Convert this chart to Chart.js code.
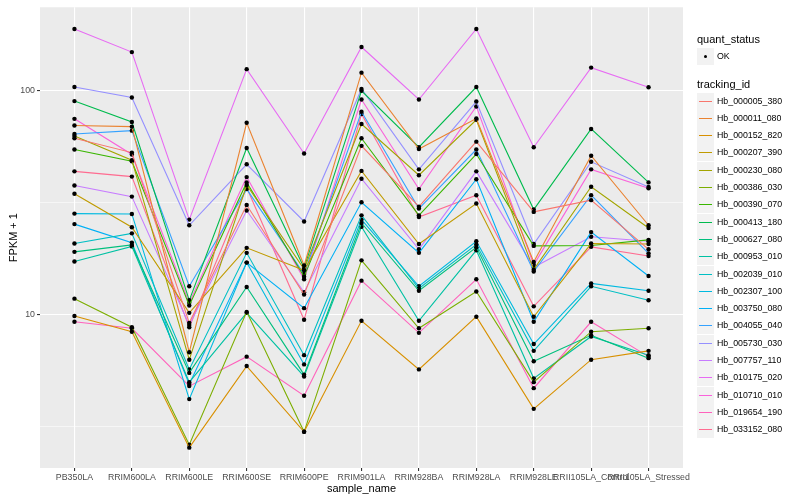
<!DOCTYPE html>
<html>
<head>
<meta charset="utf-8">
<script src="https://cdn.jsdelivr.net/npm/chart.js@4.4.1/dist/chart.umd.min.js"></script>
<style>
  html, body { margin: 0; padding: 0; background: #fff; }
  #wrap { position: relative; width: 800px; height: 500px; font-family: "Liberation Sans", Arial, sans-serif; }
  #chart { position: absolute; left: 0; top: 0; }
  #legend { position: absolute; left: 697px; top: 0; width: 103px; }
  .lg-title { position: absolute; left: 0; font-size: 11px; color: #000; white-space: nowrap; }
  .lg-item { position: absolute; left: 0; height: 17px; width: 103px; }
  .lg-key { position: absolute; left: 0; top: 0; width: 17px; height: 17px; background: #f2f2f2; }
  .lg-line { position: absolute; left: 2px; top: 8px; width: 13px; height: 1px; }
  .lg-dot { position: absolute; left: 7px; top: 7px; width: 3px; height: 3px; border-radius: 50%; background: #000; }
  .lg-text { position: absolute; left: 20px; top: 0; line-height: 17px; font-size: 8.8px; color: #000; white-space: nowrap; }
</style>
</head>
<body>
<div id="wrap">
  <canvas id="chart" width="800" height="500"></canvas>
  <div id="legend"></div>
</div>
<script>
// categories on the x axis
const sampleNames = ['PB350LA', 'RRIM600LA', 'RRIM600LE', 'RRIM600SE', 'RRIM600PE', 'RRIM901LA',
  'RRIM928BA', 'RRIM928LA', 'RRIM928LE', 'RRII105LA_Control', 'RRII105LA_Stressed'];

// FPKM + 1 per gene, one value per sample
const hb_000005_380 = [61.4, 53.0, 9.2, 30.9, 12.3, 56.8, 30.4, 59.3, 28.8, 32.5, 19.6];
const hb_000011_080 = [70.0, 69.2, 6.8, 72.0, 16.6, 120.6, 55.0, 75.3, 17.2, 51.3, 25.1];
const hb_000152_820 = [9.87, 8.4, 2.55, 5.9, 3.0, 9.4, 5.7, 9.8, 3.8, 6.3, 6.9];
const hb_000207_390 = [34.7, 24.6, 10.2, 19.9, 15.8, 43.9, 20.7, 31.4, 9.8, 20.8, 20.7];
const hb_000230_080 = [62.9, 49.0, 6.3, 38.0, 16.0, 71.1, 42.0, 74.3, 15.9, 37.3, 24.4];
const hb_000386_030 = [11.8, 8.8, 2.63, 10.3, 3.0, 17.5, 8.7, 12.7, 5.0, 8.4, 8.7];
const hb_000390_070 = [54.7, 48.5, 11.0, 39.0, 14.8, 61.4, 27.8, 52.2, 20.3, 20.4, 21.6];
const hb_000413_180 = [90.0, 72.6, 11.6, 55.6, 16.2, 100.0, 56.0, 104.0, 29.5, 67.6, 39.0];
const hb_000627_080 = [19.1, 20.5, 5.5, 13.3, 5.4, 25.7, 12.8, 20.0, 6.2, 8.1, 6.4];
const hb_000953_010 = [17.3, 20.2, 5.0, 10.2, 5.3, 24.7, 9.4, 19.4, 5.2, 8.0, 6.6];
const hb_002039_010 = [20.8, 23.1, 5.7, 18.9, 6.6, 27.8, 13.1, 20.6, 6.9, 13.4, 11.6];
const hb_002307_100 = [28.3, 28.2, 4.2, 17.1, 6.0, 26.6, 13.4, 21.3, 7.4, 13.8, 12.8];
const hb_003750_080 = [25.4, 21.0, 4.9, 17.1, 10.7, 31.8, 18.9, 40.3, 9.3, 23.4, 14.9];
const hb_004055_040 = [64.2, 66.4, 13.4, 36.4, 15.2, 80.7, 29.8, 54.7, 15.6, 34.2, 18.8];
const hb_005730_030 = [104.0, 93.4, 25.1, 47.0, 26.1, 102.0, 44.6, 89.6, 20.7, 48.2, 37.2];
const hb_007757_110 = [37.8, 33.7, 9.0, 29.2, 12.6, 40.5, 19.6, 43.7, 16.3, 22.3, 21.3];
const hb_010175_020 = [189.0, 149.0, 26.6, 125.0, 52.5, 157.0, 91.5, 189.0, 56.0, 127.0, 103.8];
const hb_010710_010 = [75.0, 52.0, 11.3, 41.2, 14.4, 91.5, 36.4, 85.2, 16.7, 44.6, 36.7];
const hb_019654_190 = [9.3, 8.7, 4.8, 6.5, 4.35, 14.2, 8.3, 14.4, 4.7, 9.3, 6.5];
const hb_033152_080 = [43.7, 41.4, 8.8, 37.0, 9.5, 78.8, 27.3, 34.2, 10.9, 20.1, 18.3];

const trackingIds = ['Hb_000005_380', 'Hb_000011_080', 'Hb_000152_820', 'Hb_000207_390', 'Hb_000230_080',
  'Hb_000386_030', 'Hb_000390_070', 'Hb_000413_180', 'Hb_000627_080', 'Hb_000953_010',
  'Hb_002039_010', 'Hb_002307_100', 'Hb_003750_080', 'Hb_004055_040', 'Hb_005730_030',
  'Hb_007757_110', 'Hb_010175_020', 'Hb_010710_010', 'Hb_019654_190', 'Hb_033152_080'];
const seriesValues = [hb_000005_380, hb_000011_080, hb_000152_820, hb_000207_390, hb_000230_080,
  hb_000386_030, hb_000390_070, hb_000413_180, hb_000627_080, hb_000953_010,
  hb_002039_010, hb_002307_100, hb_003750_080, hb_004055_040, hb_005730_030,
  hb_007757_110, hb_010175_020, hb_010710_010, hb_019654_190, hb_033152_080];

// y breaks: labelled majors and the log-midpoint minors
const yMajorTicks = [10, 100];
const yMinorTicks = [3.1623, 31.623];

const colors = ['#F8766D', '#EA8331', '#D89000', '#C09B00', '#A3A500', '#7CAE00', '#39B600', '#00BB4E',
  '#00BF7D', '#00C1A3', '#00BFC4', '#00BAE0', '#00B0F6', '#35A2FF', '#9590FF', '#C77CFF',
  '#E76BF3', '#FA62DB', '#FF62BC', '#FF6C91'];

const font = '"Liberation Sans", Arial, sans-serif';

// grey panel behind the plot
const panelBg = {
  id: 'panelBg',
  beforeDraw(chart) {
    const a = chart.chartArea, ctx = chart.ctx;
    ctx.save();
    ctx.fillStyle = '#EBEBEB';
    ctx.fillRect(a.left, a.top, a.right - a.left, a.bottom - a.top);
    ctx.restore();
  }
};

const isMajor = v => yMajorTicks.some(m => Math.abs(m - v) < 1e-6);

const datasets = seriesValues.map((vals, i) => ({
  label: trackingIds[i],
  data: vals.map((y, x) => ({ x, y })),
  borderColor: colors[i],
  borderWidth: 1.1,
  pointRadius: 2.2,
  pointBackgroundColor: '#000',
  pointBorderWidth: 0,
  pointStyle: 'circle',
  fill: false,
  tension: 0
}));

new Chart(document.getElementById('chart'), {
  type: 'line',
  data: { datasets },
  plugins: [panelBg],
  options: {
    responsive: false,
    animation: false,
    devicePixelRatio: 1,
    layout: { padding: { left: 0, right: 117, top: 5, bottom: 0 } },
    plugins: { legend: { display: false }, tooltip: { enabled: false } },
    scales: {
      x: {
        type: 'linear',
        min: -0.6, max: 10.6,
        afterBuildTicks: s => { s.ticks = sampleNames.map((_, i) => ({ value: i })); },
        afterFit: s => { s.height = 32; },
        border: { display: false },
        grid: { color: '#fff', lineWidth: 1.1, tickColor: '#333', tickLength: 3 },
        ticks: {
          autoSkip: false, maxRotation: 0, minRotation: 0, padding: 1,
          color: '#4D4D4D', font: { family: font, size: 8.8 },
          callback: v => sampleNames[v]
        },
        title: { display: true, text: 'sample_name', color: '#000', font: { family: font, size: 11 }, padding: { top: 0, bottom: 4 } }
      },
      y: {
        type: 'logarithmic',
        min: 2.068, max: 236.2,
        afterBuildTicks: s => { s.ticks = yMinorTicks.concat(yMajorTicks).sort((a, b) => a - b).map(v => ({ value: v })); },
        afterFit: s => { s.width = 40; },
        border: { display: false },
        grid: {
          color: '#fff',
          lineWidth: c => isMajor(c.tick.value) ? 1.1 : 0.55,
          tickColor: c => isMajor(c.tick.value) ? '#333' : 'rgba(0,0,0,0)',
          tickLength: 3
        },
        ticks: {
          padding: 2, color: '#4D4D4D', font: { family: font, size: 8.8 },
          callback: v => isMajor(v) ? String(v) : ''
        },
        title: { display: true, text: 'FPKM + 1', color: '#000', font: { family: font, size: 11 }, padding: { top: 7, bottom: 0 } }
      }
    }
  }
});

// ggplot-style legend on the right
const legend = document.getElementById('legend');
let html = '<div class="lg-title" style="top:33px">quant_status</div>';
html += '<div class="lg-item" style="top:48px"><div class="lg-key"><div class="lg-dot"></div></div><div class="lg-text">OK</div></div>';
html += '<div class="lg-title" style="top:78px">tracking_id</div>';
trackingIds.forEach((id, i) => {
  const top = 92.5 + i * 17.3;
  html += '<div class="lg-item" style="top:' + top + 'px"><div class="lg-key"><div class="lg-line" style="background:' + colors[i] + '"></div></div><div class="lg-text">' + id + '</div></div>';
});
legend.innerHTML = html;
</script>
</body>
</html>
